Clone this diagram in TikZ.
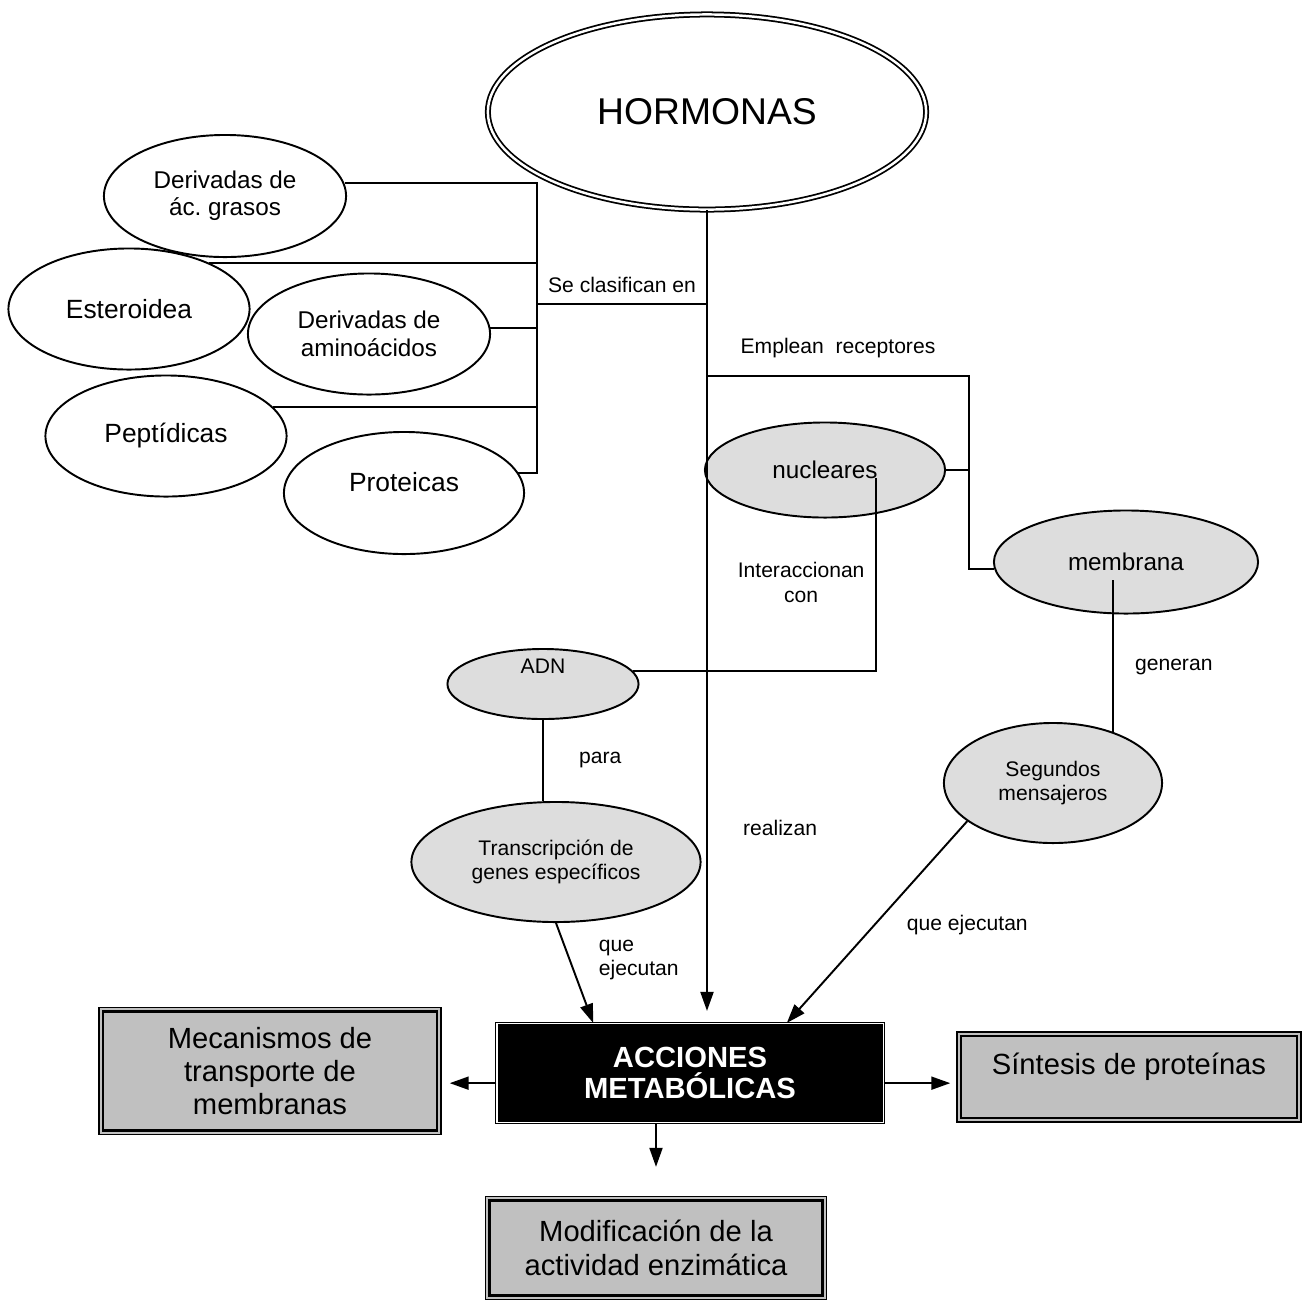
\documentclass[tikz,border=0pt]{standalone}
\usepackage{fontspec}
\setmainfont{Liberation Sans}
\usetikzlibrary{positioning, shapes.geometric, arrows.meta, calc}
\definecolor{boxgray}{HTML}{C0C0C0}
\definecolor{ellgray}{HTML}{DDDDDD}

\begin{document}
\begin{tikzpicture}[
    x=0.01cm, y=-0.01cm, line width=0.55pt,
    ell/.style={ellipse, draw, fill=white, inner sep=0pt, align=center, font=\fontsize{7.5}{8.6}\selectfont},
    dell/.style={ell, font=\fontsize{6.9}{7.8}\selectfont},
    gell/.style={ellipse, draw, fill=ellgray, inner sep=0pt, align=center, font=\fontsize{6.9}{7.9}\selectfont},
    sell/.style={gell, font=\fontsize{6}{7}\selectfont},
    gbox/.style={rectangle, draw, line width=0.35pt, fill=boxgray, align=center, font=\fontsize{8.3}{9.5}\selectfont,
      path picture={\draw[line width=0.7pt] ([shift={(1.2pt,1.2pt)}]path picture bounding box.south west) rectangle ([shift={(-1.2pt,-1.2pt)}]path picture bounding box.north east);}},
    kbox/.style={rectangle, draw, line width=0.3pt, double=white, double distance=0.35pt, fill=black, text=white, align=center, font=\fontsize{8.3}{9}\selectfont\bfseries},
    arr/.style={-{Triangle[length=0.19cm, width=0.13cm]}},
    lbl/.style={font=\fontsize{6}{7}\selectfont, align=center, inner sep=1pt},
  ]
    \useasboundingbox (0,0) rectangle (1303,1305);

    \node[ell, line width=0.5pt, double, double distance=0.7pt, minimum width=4.38cm, minimum height=1.95cm, font=\fontsize{10.6}{12}\selectfont] (horm) at (707,112) {HORMONAS};

    % tipos
    \node[dell, minimum width=2.42cm, minimum height=1.22cm] (dgras) at (225,196) {Derivadas de\\ác.\ grasos};
    \node[ell, minimum width=2.41cm, minimum height=1.21cm] (ester) at (129,309) {Esteroidea};
    \node[dell, minimum width=2.42cm, minimum height=1.21cm] (amino) at (369,334) {Derivadas de\\aminoácidos};
    \node[ell, minimum width=2.41cm, minimum height=1.21cm] (pept) at (166,436) {Peptídicas};
    \node[ell, minimum width=2.40cm, minimum height=1.22cm, label={[font=\fontsize{7.5}{8.6}\selectfont, yshift=0.11cm]center:Proteicas}] (prot) at (404,493) {};

    % receptores
    \node[gell, minimum width=2.40cm, minimum height=0.95cm] (nuc) at (825,470) {nucleares};
    \node[gell, minimum width=2.64cm, minimum height=1.03cm] (memb) at (1126,562) {membrana};
    \node[sell, minimum width=1.91cm, minimum height=0.70cm, label={[lbl, yshift=0.18cm]center:ADN}] (adn) at (543,684) {};
    \node[sell, minimum width=2.89cm, minimum height=1.20cm] (trans) at (556,862) {Transcripción de\\genes específicos};
    \node[sell, minimum width=2.18cm, minimum height=1.20cm] (seg) at (1053,783) {Segundos\\mensajeros};

    % acciones
    \node[kbox, minimum width=3.86cm, minimum height=0.99cm] (acc) at (690,1073) {ACCIONES\\METABÓLICAS};
    \node[gbox, minimum width=3.42cm, minimum height=1.27cm] (mec) at (270,1071) {Mecanismos de\\transporte de\\membranas};
    \node[gbox, minimum width=3.44cm, minimum height=0.90cm, label={[font=\fontsize{8.3}{9.5}\selectfont, yshift=0.10cm]center:Síntesis de proteínas}] (sint) at (1129,1077) {};
    \node[gbox, minimum width=3.41cm, minimum height=1.03cm] (mod) at (656,1248) {Modificación de la\\actividad enzimática};

    \coordinate (bus) at (537,304);
    \coordinate (rec) at (969,376);
    \coordinate (nucin) at (876,478);
    \coordinate (membin) at (1113,580);

    \draw (dgras.6) -| (bus);
    \draw (ester.30) -| (bus);
    \draw (amino.3) -| (bus);
    \draw (pept.15) -| (bus);
    \draw (prot.10) -| (bus);
    \draw (bus) -- node[lbl, above=2pt] {Se clasifican en} (bus -| horm.south);

    \draw[arr, shorten >=0.12cm] (horm.south) -- node[lbl, pos=0.76, right=9pt] {realizan} (horm.south |- acc.north);

    \draw (horm.south |- rec) -- node[lbl, above=4pt] {Emplean\ \ receptores} (rec) |- (memb.183);
    \draw (nuc.east) -- (nuc.east -| rec);
    \draw (nucin) |- node[lbl, pos=0.27, left=2pt] {Interaccionan\\con} (adn.8);
    \draw (membin) -- node[lbl, pos=0.57, right=5pt] {generan} (membin |- seg.40);
    \draw (adn.south) -- node[lbl, right=9pt] {para} (adn.south |- trans.north);

    \draw[arr] (trans.south) -- node[lbl, align=left, pos=0.37, right=7pt] {que\\ejecutan} ($(acc.north west)!0.25!(acc.north east)$);
    \draw[arr] (seg.204) -- node[lbl, pos=0.515, right=8pt] {que ejecutan} ($(acc.north west)!0.75!(acc.north east)$);

    \draw[arr, shorten >=0.08cm] (acc.183) -- (acc.183 -| mec.east);
    \draw[arr, shorten >=0.06cm] (acc.357) -- (acc.357 -| sint.west);
    \draw[arr, shorten >=0.29cm] (acc.south -| mod.north) -- (mod.north);
  \end{tikzpicture}
\end{document}
